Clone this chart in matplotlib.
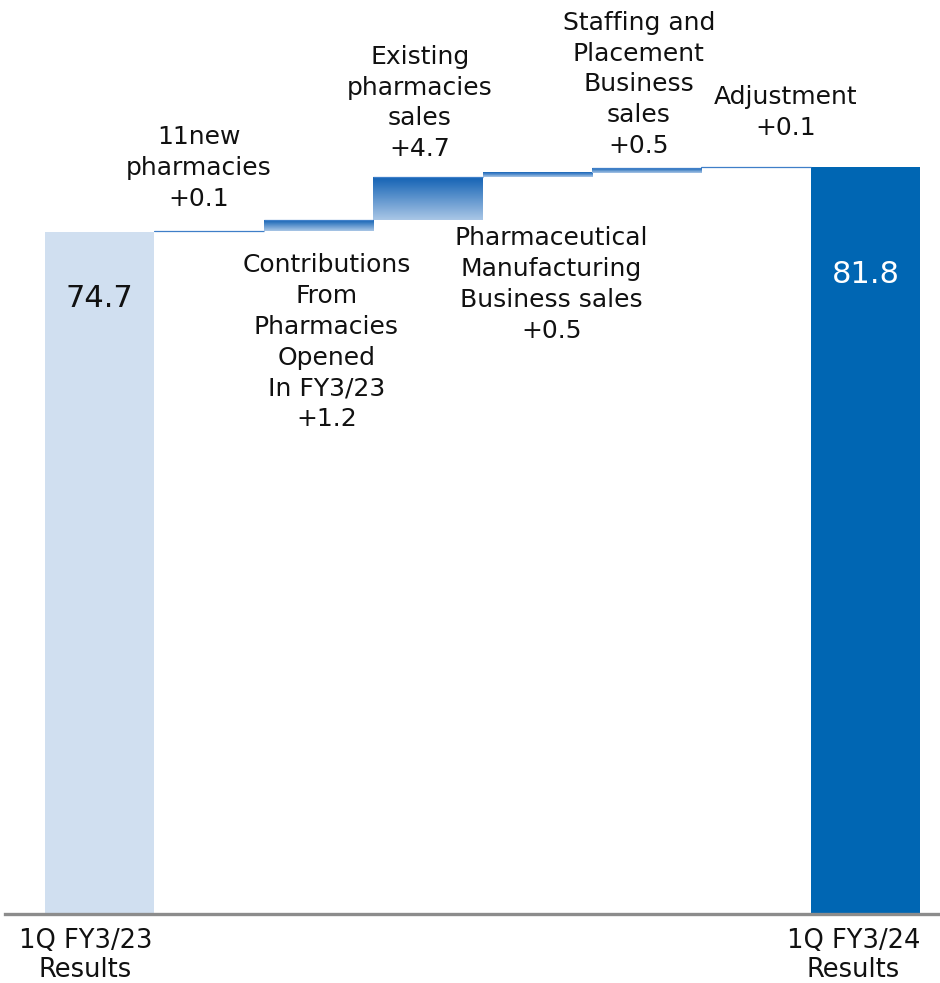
import matplotlib
matplotlib.use('Agg')
import matplotlib.pyplot as plt
import numpy as np
from matplotlib.colors import LinearSegmentedColormap

plt.rcParams['font.family'] = ['DejaVu Sans']

# waterfall data (billion yen)
start_label = '1Q FY3/23\nResults'
end_label = '1Q FY3/24\nResults'
start_value = 74.7
end_value = 81.8
step_labels = ['11new\npharmacies',
               'Contributions\nFrom\nPharmacies\nOpened\nIn FY3/23',
               'Existing\npharmacies\nsales',
               'Pharmaceutical\nManufacturing\nBusiness sales',
               'Staffing and\nPlacement\nBusiness\nsales',
               'Adjustment']
step_values = [0.1, 1.2, 4.7, 0.5, 0.5, 0.1]

# label placement per step: above/below the step and pixel offsets
label_side = ['above', 'below', 'above', 'below', 'above', 'above']
label_dx = [-10, 8, -8, 14, -8, 30]
label_dy = [20, 22, 16, 49, 10, 27]

W, H = 940, 983
fig = plt.figure(figsize=(W / 100, H / 100), dpi=100)
ax = fig.add_axes([5 / W, 69 / H, 935 / W, 914 / H])

px_per_x = 109.4
x_lo = -0.5 - 40 / px_per_x
x_hi = x_lo + 935 / px_per_x
y_hi = 914 / 9.13

grad = LinearSegmentedColormap.from_list('g', ['#a9c6e6', '#1463b5'])
gimg = np.linspace(0, 1, 64).reshape(-1, 1)

n = len(step_values)
# first and last bars
ax.bar(0, start_value, width=1.0, color='#d0dff0', zorder=2)
ax.bar(n + 1, end_value, width=1.0, color='#0066b3', zorder=2)

base = start_value
for i, v in enumerate(step_values):
    x = i + 1
    ax.imshow(gimg, cmap=grad, origin='lower', aspect='auto',
              extent=[x - 0.5, x + 0.5, base, base + v], zorder=2,
              interpolation='bilinear')
    ax.plot([x - 0.5, x + 0.5], [base + v, base + v], color='#3f7fc8',
            lw=0.9, solid_capstyle='butt', zorder=3)
    txt = step_labels[i] + '\n+' + f'{v:.1f}'
    if label_side[i] == 'above':
        ax.annotate(txt, (x, base + v), xytext=(label_dx[i], label_dy[i]),
                    textcoords='offset pixels', ha='center', va='bottom',
                    fontsize=18, linespacing=1.36, color='#111111')
    else:
        ax.annotate(txt, (x, base), xytext=(label_dx[i], -label_dy[i]),
                    textcoords='offset pixels', ha='center', va='top',
                    fontsize=18, linespacing=1.36, color='#111111')
    base += v

ax.text(0, start_value - 7.3, f'{start_value:.1f}', ha='center', va='center',
        fontsize=22, color='#111111', zorder=4)
ax.text(n + 1, end_value - 11.8, f'{end_value:.1f}', ha='center', va='center',
        fontsize=22, color='white', zorder=4)

ax.set_xlim(x_lo, x_hi)
ax.set_ylim(0, y_hi)
for s in ['top', 'right', 'left']:
    ax.spines[s].set_visible(False)
ax.spines['bottom'].set_color('#8c8c8c')
ax.spines['bottom'].set_linewidth(2.4)
ax.spines['bottom'].set_zorder(5)
ax.set_yticks([])
ax.set_xticks([-0.13, n + 0.89])
ax.set_xticklabels([start_label, end_label], fontsize=18.5, linespacing=1.15,
                   color='#111111')
ax.tick_params(axis='x', length=0, pad=10)

fig.savefig('out.png', dpi=100)
